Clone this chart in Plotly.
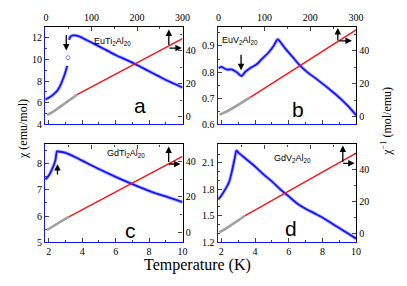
import plotly.graph_objects as go

# ---------------- data ----------------
# panel a: EuTi2Al20
a_T1 = [1.8, 2.05, 2.3, 2.55, 2.75, 2.95, 3.1]
a_chi1 = [6.3, 6.5, 6.8, 7.2, 7.8, 8.6, 9.4]
a_Tgap = [3.15]
a_chigap = [10.15]
a_T2 = [3.22, 3.3, 3.45, 3.6, 3.85, 4.1, 4.5, 5.0, 5.5, 6.0, 6.5, 7.0, 7.5, 8.0, 8.5, 9.0, 9.5, 10.0]
a_chi2 = [11.8, 12.1, 12.2, 12.2, 12.1, 11.9, 11.6, 11.2, 10.8, 10.4, 10.05, 9.7, 9.3, 8.9, 8.5, 8.1, 7.75, 7.4]
a_Tg = [2, 10, 20, 40, 68]
a_invg = [1.0, 2.0, 3.8, 7.8, 13.3]
a_Tr = [68, 300]
a_invr = [13.3, 47.5]

# panel b: EuV2Al20
b_T = [1.85, 2.0, 2.3, 2.6, 2.9, 3.2, 3.4, 3.7, 4.1, 4.4, 4.8, 5.1, 5.35, 5.5, 5.8, 6.2, 6.6, 7.1, 7.6, 8.0, 8.6, 9.15, 9.6, 10.0]
b_chi = [0.815, 0.82, 0.81, 0.81, 0.80, 0.785, 0.80, 0.815, 0.83, 0.85, 0.875, 0.90, 0.925, 0.915, 0.89, 0.86, 0.83, 0.80, 0.776, 0.756, 0.725, 0.694, 0.665, 0.635]
b_Tg = [2, 10, 20, 40, 69]
b_invg = [1.2, 2.0, 3.4, 6.6, 11.7]
b_Tr = [69, 300]
b_invr = [11.7, 52.8]

# panel c: GdTi2Al20
c_T = [1.8, 2.0, 2.1, 2.2, 2.3, 2.4, 2.5, 2.6, 3.0, 3.5, 4.0, 5.0, 6.0, 7.0, 8.0, 8.5, 9.0, 10.0]
c_chi = [7.4, 7.55, 7.66, 7.8, 7.95, 8.15, 8.48, 8.47, 8.42, 8.28, 8.12, 7.8, 7.5, 7.22, 6.96, 6.85, 6.75, 6.53]
c_Tg = [2, 10, 20, 35, 50]
c_invg = [1.5, 2.6, 4.3, 6.6, 8.9]
c_Tr = [50, 300]
c_invr = [8.9, 42.8]

# panel d: GdV2Al20
d_T = [1.82, 2.0, 2.23, 2.45, 2.62, 2.8, 2.9, 3.0, 3.5, 4.0, 4.5, 5.0, 5.5, 6.0, 6.5, 7.0, 7.5, 8.0, 8.5, 9.0, 9.5, 10.0]
d_chi = [1.684, 1.73, 1.80, 1.88, 2.0, 2.16, 2.24, 2.22, 2.14, 2.06, 1.97, 1.89, 1.80, 1.72, 1.64, 1.58, 1.53, 1.48, 1.42, 1.36, 1.30, 1.24]
d_Tg = [2, 10, 20, 40, 57]
d_invg = [1.0, 2.2, 4.0, 7.8, 11.1]
d_Tr = [57, 300]
d_invr = [11.1, 49.9]

BLUE = "#1414ff"
HALO = "#b4b8ff"
RED = "#ff1010"
GRAY = "#a0a0a0"

# page is offset by the 8px body margin: work in page pixels, convert to figure fractions
OFF = 8
W, H = 407 - OFF, 286 - OFF


def fx(px):
    return (px - OFF) / W


def fy(py):
    return 1 - (py - OFF) / H


cols = [(44, 185), (221, 363)]
rows = [(27, 127), (147.5, 247.3)]

panels = [
    dict(key="a", col=0, row=0, yl=[4, 13.02], ydt=2, yr=[-4.8, 54.8],
         blue=[(a_T1, a_chi1), (a_T2, a_chi2)], gap=(a_Tgap, a_chigap),
         g=(a_Tg, a_invg), r=(a_Tr, a_invr), mdt=1),
    dict(key="b", col=1, row=0, yl=[0.6, 0.974], ydt=0.1, yr=[-4.8, 54.8],
         blue=[(b_T, b_chi)], gap=None, g=(b_Tg, b_invg), r=(b_Tr, b_invr), mdt=0.05),
    dict(key="c", col=0, row=1, yl=[5, 8.74], ydt=1, yr=[-5.3, 49.4],
         blue=[(c_T, c_chi)], gap=None, g=(c_Tg, c_invg), r=(c_Tr, c_invr), mdt=0.5),
    dict(key="d", col=1, row=1, yl=[1.2, 2.31], ydt=0.3, yr=[-5.1, 55.3],
         blue=[(d_T, d_chi)], gap=None, g=(d_Tg, d_invg), r=(d_Tr, d_invr), mdt=0.1),
]

fig = go.Figure()
layout = dict(width=W, height=H, margin=dict(l=0, r=0, t=0, b=0), autosize=False,
              paper_bgcolor="white", plot_bgcolor="rgba(0,0,0,0)", showlegend=False)

tickfont = dict(family="Liberation Serif", size=10, color="black")
ann = []

for i, p in enumerate(panels):
    n = 4 * i
    xb, xt, yl, yr = n + 1, n + 2, n + 3, n + 4
    x0, x1 = cols[p["col"]]
    y0, y1 = rows[p["row"]]
    xdom = [fx(x0), fx(x1)]
    ydom = [fy(y1), fy(y0)]
    top = p["row"] == 0
    base = dict(ticks="inside", showgrid=False, zeroline=False, showline=True,
                tickfont=tickfont, linewidth=1.3, ticklen=4, tickwidth=1)
    layout[f"xaxis{xb}"] = dict(base, domain=xdom, anchor=f"y{yl}", range=[1.78, 10], dtick=2,
                                tick0=0, linecolor=BLUE, showticklabels=not top, side="bottom",
                                minor=dict(ticks="inside", ticklen=2, dtick=1, tick0=0), ticklabelstandoff=0)
    layout[f"xaxis{xt}"] = dict(base, domain=xdom, anchor=f"y{yl}", overlaying=f"x{xb}", side="top",
                                range=[-2, 300], dtick=100, tick0=0, linecolor="black",
                                showticklabels=top, ticklabelstandoff=0,
                                minor=dict(ticks="inside", ticklen=2, dtick=50, tick0=0))
    layout[f"yaxis{yl}"] = dict(base, domain=ydom, anchor=f"x{xb}", range=p["yl"], dtick=p["ydt"],
                                tick0=0, linecolor=BLUE, side="left", ticklabelstandoff=0,
                                minor=dict(ticks="inside", ticklen=2, dtick=p["mdt"], tick0=0))
    layout[f"yaxis{yr}"] = dict(base, domain=ydom, anchor=f"x{xb}", overlaying=f"y{yl}", side="right",
                                range=p["yr"], dtick=20, tick0=0, linecolor="black", ticklabelstandoff=0,
                                minor=dict(ticks="inside", ticklen=2, dtick=10, tick0=0))
    xs = lambda k: f"x{k}" if k > 1 else "x"
    gx, gy = p["g"]
    fig.add_trace(go.Scatter(x=gx, y=gy, mode="lines", line=dict(color=GRAY, width=2.6),
                             xaxis=f"x{xt}", yaxis=f"y{yr}"))
    rx, ry = p["r"]
    fig.add_trace(go.Scatter(x=rx, y=ry, mode="lines", line=dict(color=RED, width=1.4),
                             xaxis=f"x{xt}", yaxis=f"y{yr}"))
    for (bx, by) in p["blue"]:
        fig.add_trace(go.Scatter(x=bx, y=by, mode="lines", line=dict(color=HALO, width=3.6, shape="spline"),
                                 xaxis=xs(xb), yaxis=f"y{yl}"))
        fig.add_trace(go.Scatter(x=bx, y=by, mode="lines", line=dict(color=BLUE, width=1.8, shape="spline"),
                                 xaxis=xs(xb), yaxis=f"y{yl}"))
    if p["gap"]:
        fig.add_trace(go.Scatter(x=p["gap"][0], y=p["gap"][1], mode="markers",
                                 marker=dict(symbol="circle-open", size=4, color="#8080ff"),
                                 xaxis=xs(xb), yaxis=f"y{yl}"))

    xr = f"x{xb} domain" if xb > 1 else "x domain"
    yrf = f"y{yl} domain"

    def arrow(xh, yh, ax, ay):
        ann.append(dict(xref=xr, yref=yrf, x=xh, y=yh, ax=ax, ay=ay, showarrow=True,
                        arrowhead=2, arrowsize=1, arrowwidth=1.3, arrowcolor="black", text=""))

    def txt(x, y, t, size, xanchor="center"):
        ann.append(dict(xref=xr, yref=yrf, x=x, y=y, text=t, showarrow=False, xanchor=xanchor,
                        yanchor="middle", font=dict(family="Liberation Sans", size=size, color="black")))

    if p["key"] == "a":
        arrow(0.90, 0.97, 0, 17); arrow(0.995, 0.78, -14, 0)
        arrow(0.154, 0.755, 0, -17)
        txt(0.49, 0.845, "EuTi<sub>2</sub>Al<sub>20</sub>", 9)
        txt(0.69, 0.19, "a", 21)
    elif p["key"] == "b":
        arrow(0.868, 0.985, 0, 14); arrow(0.97, 0.855, -14, 0)
        arrow(0.169, 0.555, 0, -17)
        txt(0.015, 0.855, "EuV<sub>2</sub>Al<sub>20</sub>", 9, "left")
        txt(0.58, 0.155, "b", 21)
    elif p["key"] == "c":
        arrow(0.899, 0.98, 0, 17); arrow(0.985, 0.80, -13, 0)
        arrow(0.09, 0.80, 0, 12)
        txt(0.59, 0.91, "GdTi<sub>2</sub>Al<sub>20</sub>", 9)
        txt(0.62, 0.12, "c", 21)
    else:
        arrow(0.904, 0.99, 0, 18); arrow(0.99, 0.807, -13, 0)
        txt(0.54, 0.86, "GdV<sub>2</sub>Al<sub>20</sub>", 9)
        txt(0.53, 0.14, "d", 21)

ann.append(dict(xref="paper", yref="paper", x=fx(22), y=fy(132), text="χ (emu/mol)", textangle=-90,
                xanchor="center", yanchor="middle",
                showarrow=False, font=dict(family="Liberation Serif", size=12, color="black")))
ann.append(dict(xref="paper", yref="paper", x=fx(394), y=fy(124), text="χ<sup>−1</sup> (mol/emu)",
                xanchor="center", yanchor="middle",
                textangle=-90, showarrow=False, font=dict(family="Liberation Serif", size=12, color="black")))
ann.append(dict(xref="paper", yref="paper", x=fx(200), y=fy(271), text="Temperature (K)",
                xanchor="center", yanchor="middle",
                showarrow=False, font=dict(family="Liberation Serif", size=16, color="black")))

layout["annotations"] = ann
fig.update_layout(**layout)
fig.write_html("out.html")
